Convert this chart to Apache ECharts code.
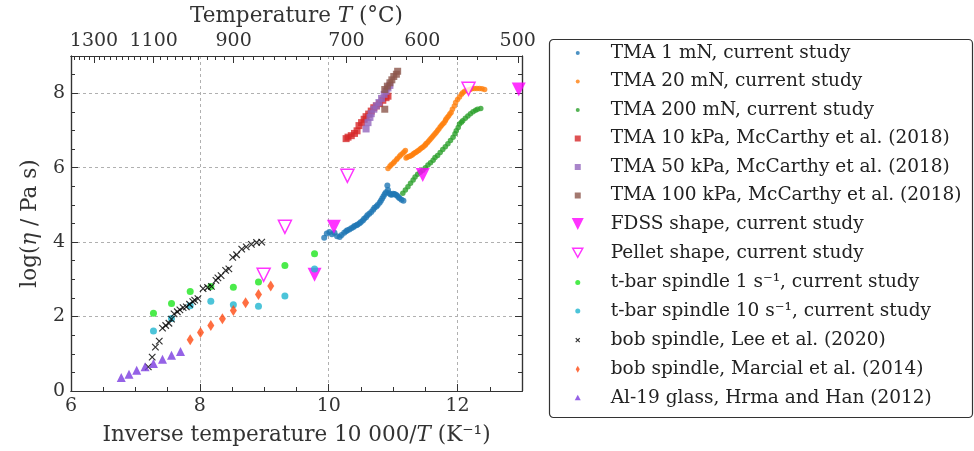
<!DOCTYPE html>
<html><head><meta charset="utf-8">
<script src="https://cdn.jsdelivr.net/npm/echarts@6/dist/echarts.min.js"></script>
<style>html,body{margin:0;padding:0;background:#fff}#c{width:974px;height:451px}</style>
</head><body><div id="c"></div>
<script>
// ---- data: [inverse temperature 10000/T, log(eta)] ----
const tma1mN = [[9.93,4.12],[9.97,4.23],[10.01,4.27],[10.05,4.21],[10.09,4.25],[10.13,4.16],[10.17,4.14],[10.20,4.19],[10.24,4.25],[10.27,4.29],[10.29,4.32],[10.32,4.34],[10.35,4.37],[10.38,4.40],[10.40,4.43],[10.43,4.45],[10.45,4.47],[10.48,4.51],[10.50,4.54],[10.53,4.58],[10.55,4.63],[10.58,4.67],[10.60,4.72],[10.63,4.76],[10.66,4.81],[10.69,4.87],[10.71,4.92],[10.74,4.96],[10.76,5.00],[10.79,5.06],[10.81,5.11],[10.83,5.17],[10.85,5.23],[10.87,5.29],[10.89,5.34],[10.91,5.52],[10.92,5.40],[10.94,5.31],[10.96,5.28],[10.98,5.27],[11.00,5.30],[11.02,5.29],[11.04,5.27],[11.06,5.25],[11.08,5.21],[11.10,5.18],[11.13,5.14],[11.16,5.11]];
const tma20mN = [[10.92,5.98],[10.95,6.04],[10.97,6.08],[11.00,6.12],[11.02,6.16],[11.05,6.21],[11.07,6.25],[11.10,6.31],[11.12,6.35],[11.15,6.39],[11.17,6.42],[11.19,6.46],[11.20,6.26],[11.22,6.28],[11.24,6.30],[11.26,6.31],[11.28,6.33],[11.30,6.35],[11.32,6.38],[11.34,6.40],[11.36,6.42],[11.38,6.45],[11.40,6.47],[11.42,6.50],[11.44,6.53],[11.46,6.55],[11.48,6.58],[11.50,6.61],[11.51,6.64],[11.53,6.67],[11.55,6.71],[11.57,6.75],[11.59,6.79],[11.61,6.83],[11.63,6.87],[11.65,6.91],[11.67,6.95],[11.69,7.00],[11.71,7.04],[11.73,7.09],[11.75,7.13],[11.77,7.17],[11.79,7.21],[11.81,7.26],[11.82,7.30],[11.84,7.35],[11.86,7.39],[11.88,7.44],[11.90,7.48],[11.92,7.57],[11.95,7.66],[11.97,7.75],[12.00,7.83],[12.03,7.90],[12.06,7.97],[12.08,8.01],[12.11,8.05],[12.15,8.08],[12.19,8.10],[12.22,8.12],[12.26,8.13],[12.30,8.13],[12.34,8.13],[12.38,8.12],[12.42,8.10]];
const tma200mN = [[11.15,5.31],[11.19,5.40],[11.23,5.49],[11.27,5.58],[11.31,5.67],[11.34,5.75],[11.38,5.82],[11.42,5.88],[11.46,5.93],[11.50,6.00],[11.54,6.07],[11.58,6.13],[11.62,6.20],[11.65,6.27],[11.69,6.33],[11.73,6.41],[11.77,6.49],[11.81,6.56],[11.85,6.64],[11.89,6.73],[11.93,6.82],[11.96,6.91],[11.98,6.99],[12.01,7.08],[12.03,7.17],[12.06,7.22],[12.08,7.26],[12.12,7.33],[12.16,7.39],[12.20,7.45],[12.24,7.50],[12.28,7.54],[12.31,7.57],[12.36,7.59]];
const mcCarthy10kPa = [[10.27,6.78],[10.30,6.82],[10.35,6.86],[10.40,6.92],[10.44,6.99],[10.47,7.13],[10.51,7.21],[10.55,7.30],[10.58,7.37],[10.62,7.44],[10.66,7.52],[10.70,7.61],[10.74,7.66],[10.79,7.72],[10.84,7.81],[10.89,7.88],[10.92,7.92]];
const mcCarthy50kPa = [[10.58,7.04],[10.61,7.21],[10.64,7.35],[10.66,7.45],[10.70,7.57],[10.74,7.66],[10.78,7.75],[10.82,7.86],[10.86,7.97],[10.89,8.05],[10.92,8.14],[10.95,8.21]];
const mcCarthy100kPa = [[10.87,7.57],[10.87,8.10],[10.91,8.19],[10.95,8.28],[10.98,8.36],[11.01,8.45],[11.05,8.51],[11.07,8.59]];
const fdssShape = [[9.78,3.12],[10.08,4.41],[11.46,5.80],[12.95,8.10]];
const pelletShape = [[8.99,3.12],[9.32,4.41],[10.29,5.78],[12.17,8.12]];
const tbar1 = [[7.28,2.09],[7.56,2.35],[7.85,2.67],[8.17,2.81],[8.52,2.79],[8.91,2.93],[9.32,3.37],[9.78,3.69]];
const tbar10 = [[7.28,1.61],[7.56,1.95],[7.85,2.29],[8.17,2.41],[8.52,2.32],[8.91,2.28],[9.32,2.55],[9.78,3.28]];
const bobLee = [[7.20,0.65],[7.26,0.91],[7.31,1.18],[7.37,1.34],[7.42,1.69],[7.47,1.76],[7.52,1.82],[7.56,1.93],[7.60,2.07],[7.65,2.13],[7.69,2.18],[7.74,2.24],[7.79,2.26],[7.84,2.33],[7.89,2.40],[7.92,2.44],[7.97,2.48],[8.05,2.75],[8.12,2.78],[8.18,2.81],[8.25,2.97],[8.28,3.04],[8.33,3.10],[8.40,3.24],[8.45,3.28],[8.51,3.59],[8.57,3.66],[8.65,3.81],[8.72,3.87],[8.80,3.94],[8.88,3.99],[8.96,4.00]];
const bobMarcial = [[7.85,1.38],[8.01,1.57],[8.17,1.76],[8.35,1.94],[8.52,2.16],[8.71,2.37],[8.91,2.59],[9.10,2.82]];
const al19 = [[6.78,0.36],[6.90,0.45],[7.02,0.56],[7.15,0.65],[7.28,0.74],[7.42,0.85],[7.56,0.96],[7.70,1.06]];

// ---- ticks ----
const xMajor = [6, 8, 10, 12];
const xMinor = [6.5, 7, 7.5, 8.5, 9, 9.5, 10.5, 11, 11.5, 12.5];
const yMajor = [0, 2, 4, 6, 8];
const yMinor = [0.5, 1, 1.5, 2.5, 3, 3.5, 4.5, 5, 5.5, 6.5, 7, 7.5, 8.5];
const topMajorT = [1300, 1100, 900, 700, 600, 500];
const topMinorT = [1380, 1360, 1340, 1320, 1280, 1260, 1240, 1220, 1200, 1180, 1160, 1140, 1120,
  1080, 1060, 1040, 1020, 1000, 980, 960, 940, 920, 880, 860, 840, 820, 800, 780, 760, 740, 720,
  680, 660, 640, 620, 580, 560, 540, 520];

const names = ['TMA 1 mN, current study','TMA 20 mN, current study','TMA 200 mN, current study',
  'TMA 10 kPa, McCarthy et al. (2018)','TMA 50 kPa, McCarthy et al. (2018)','TMA 100 kPa, McCarthy et al. (2018)',
  'FDSS shape, current study','Pellet shape, current study','t-bar spindle 1 s⁻¹, current study',
  't-bar spindle 10 s⁻¹, current study','bob spindle, Lee et al. (2020)','bob spindle, Marcial et al. (2014)',
  'Al-19 glass, Hrma and Han (2012)'];

const toX = t => 10000 / (t + 273.15);
const FONT = 'DejaVu Serif';
const AX = '#333';
const baseLabel = {fontFamily: FONT, fontSize: 19, color: '#333'};

function axisCommon(extra) {
  return Object.assign({
    type: 'value', axisLine: {show: true, onZero: false, lineStyle: {color: AX, width: 1.2}},
    splitLine: {show: false}, axisLabel: {show: false}, axisTick: {show: false}, minorTick: {show: false}
  }, extra);
}
const tickStyle = {color: AX, width: 1};
const dashed = {show: true, lineStyle: {color: '#b0b0b0', type: [3, 3], width: 1}};
const rich = {
  n: {fontFamily: FONT, fontSize: 21.5, color: '#333'},
  i: {fontFamily: FONT, fontSize: 21.5, color: '#333', fontStyle: 'italic'}
};

const xAxis = [
  axisCommon({min: 6, max: 13, position: 'bottom',
    axisLabel: Object.assign({show: true, margin: 6, customValues: xMajor}, baseLabel),
    axisTick: {show: true, inside: true, length: 7, customValues: xMajor, lineStyle: tickStyle},
    splitLine: dashed,
    name: '{n|Inverse temperature 10 000/}{i|T}{n| (K⁻¹)}', nameLocation: 'middle', nameGap: 33,
    nameTextStyle: {rich: rich}}),
  axisCommon({min: 6, max: 13, position: 'bottom',
    axisTick: {show: true, inside: true, length: 4, customValues: xMinor, lineStyle: tickStyle}}),
  axisCommon({min: 6, max: 13, position: 'top',
    axisLabel: Object.assign({show: true, margin: 5, customValues: topMajorT.map(toX),
      formatter: v => String(Math.round(10000 / v - 273.15))}, baseLabel),
    axisTick: {show: true, inside: true, length: 7, customValues: topMajorT.map(toX), lineStyle: tickStyle},
    name: '{n|Temperature }{i|T}{n| (°C)}', nameLocation: 'middle', nameGap: 29,
    nameTextStyle: {rich: rich}}),
  axisCommon({min: 6, max: 13, position: 'top',
    axisTick: {show: true, inside: true, length: 4, customValues: topMinorT.map(toX), lineStyle: tickStyle}})
];
const yAxis = [
  axisCommon({min: 0, max: 9, position: 'left',
    axisLabel: Object.assign({show: true, margin: 6, customValues: yMajor}, baseLabel),
    axisTick: {show: true, inside: true, length: 7, customValues: yMajor, lineStyle: tickStyle},
    splitLine: dashed,
    name: '{n|log(}{i|η}{n| / Pa s)}', nameLocation: 'middle', nameGap: 30,
    nameTextStyle: {rich: rich}}),
  axisCommon({min: 0, max: 9, position: 'left',
    axisTick: {show: true, inside: true, length: 4, customValues: yMinor, lineStyle: tickStyle}}),
  axisCommon({min: 0, max: 9, position: 'right',
    axisTick: {show: true, inside: true, length: 7, customValues: yMajor, lineStyle: tickStyle}}),
  axisCommon({min: 0, max: 9, position: 'right',
    axisTick: {show: true, inside: true, length: 4, customValues: yMinor, lineStyle: tickStyle}})
];

const xPath = 'path://M0,0L10,10M10,0L0,10';
function sc(i, data, symbol, size, style, extra) {
  return Object.assign({type: 'scatter', name: names[i], data: data, symbol: symbol, symbolSize: size,
    itemStyle: style, xAxisIndex: 0, yAxisIndex: 0, z: 2 + i * 0.01, emphasis: {disabled: true}}, extra || {});
}
const series = [
  sc(0, tma1mN, 'circle', 6, {color: '#1f77b4'}),
  sc(1, tma20mN, 'circle', 5.5, {color: '#ff7f0e'}),
  sc(2, tma200mN, 'circle', 5.5, {color: '#2ca02c'}),
  sc(3, mcCarthy10kPa, 'rect', 7, {color: '#d62728'}),
  sc(4, mcCarthy50kPa, 'rect', 7, {color: '#9467bd'}),
  sc(5, mcCarthy100kPa, 'rect', 7, {color: '#8c564b'}),
  sc(6, fdssShape, 'triangle', 14, {color: '#ff00ff'}, {symbolRotate: 180}),
  sc(7, pelletShape, 'triangle', 13, {color: '#ffffff', borderColor: '#ff00ff', borderWidth: 1.5}, {symbolRotate: 180}),
  sc(8, tbar1, 'circle', 7, {color: '#1ee61e'}),
  sc(9, tbar10, 'circle', 7, {color: '#1fb5d0'}),
  sc(10, bobLee, xPath, 6.5, {color: 'rgba(0,0,0,0)', borderColor: '#000', borderWidth: 1.2}),
  sc(11, bobMarcial, 'diamond', [7, 11], {color: '#ff4a12'}),
  sc(12, al19, 'triangle', 9, {color: '#7a3be0'})
];

const P = 'path://M0,0M38,20';
const legendIcons = [
  P + 'M12,10A2,2,0,1,1,8,10A2,2,0,1,1,12,10Z',
  P + 'M12,10A2,2,0,1,1,8,10A2,2,0,1,1,12,10Z',
  P + 'M12,10A2,2,0,1,1,8,10A2,2,0,1,1,12,10Z',
  P + 'M7,7L13,7L13,13L7,13Z',
  P + 'M7,7L13,7L13,13L7,13Z',
  P + 'M7,7L13,7L13,13L7,13Z',
  P + 'M4,4L16,4L10,16Z',
  P + 'M5,5L15,5L10,14Z',
  P + 'M12.5,10A2.5,2.5,0,1,1,7.5,10A2.5,2.5,0,1,1,12.5,10Z',
  P + 'M12.5,10A2.5,2.5,0,1,1,7.5,10A2.5,2.5,0,1,1,12.5,10Z',
  P + 'M8,8L12,12M12,8L8,12',
  P + 'M10,6.5L12,10L10,13.5L8,10Z',
  P + 'M10,7L13,12.5L7,12.5Z'
];
const legendData = names.map((n, i) => {
  const d = {name: n, icon: legendIcons[i]};
  if (i === 7) d.itemStyle = {color: 'rgba(0,0,0,0)', borderColor: '#ff00ff', borderWidth: 1.5};
  else if (i === 10) d.itemStyle = {color: 'rgba(0,0,0,0)', borderColor: '#000', borderWidth: 1.2};
  else d.itemStyle = {borderWidth: 0};
  return d;
});

const chart = echarts.init(document.getElementById('c'));
chart.setOption({
  animation: false,
  backgroundColor: '#fff',
  grid: {left: 71, right: 452, top: 54, bottom: 59, containLabel: false},
  xAxis: xAxis,
  yAxis: yAxis,
  legend: {
    orient: 'vertical', left: 567, top: 43, padding: 0, itemWidth: 38, itemHeight: 20, itemGap: 8.5,
    data: legendData, selectedMode: false,
    textStyle: {fontFamily: FONT, fontSize: 18.5, color: '#222', lineHeight: 20}
  },
  graphic: [{type: 'rect', left: 547, top: 37, shape: {width: 423, height: 378, r: 4},
    style: {fill: 'none', stroke: '#333', lineWidth: 1.2}, z: 10}],
  series: series
});
</script></body></html>
